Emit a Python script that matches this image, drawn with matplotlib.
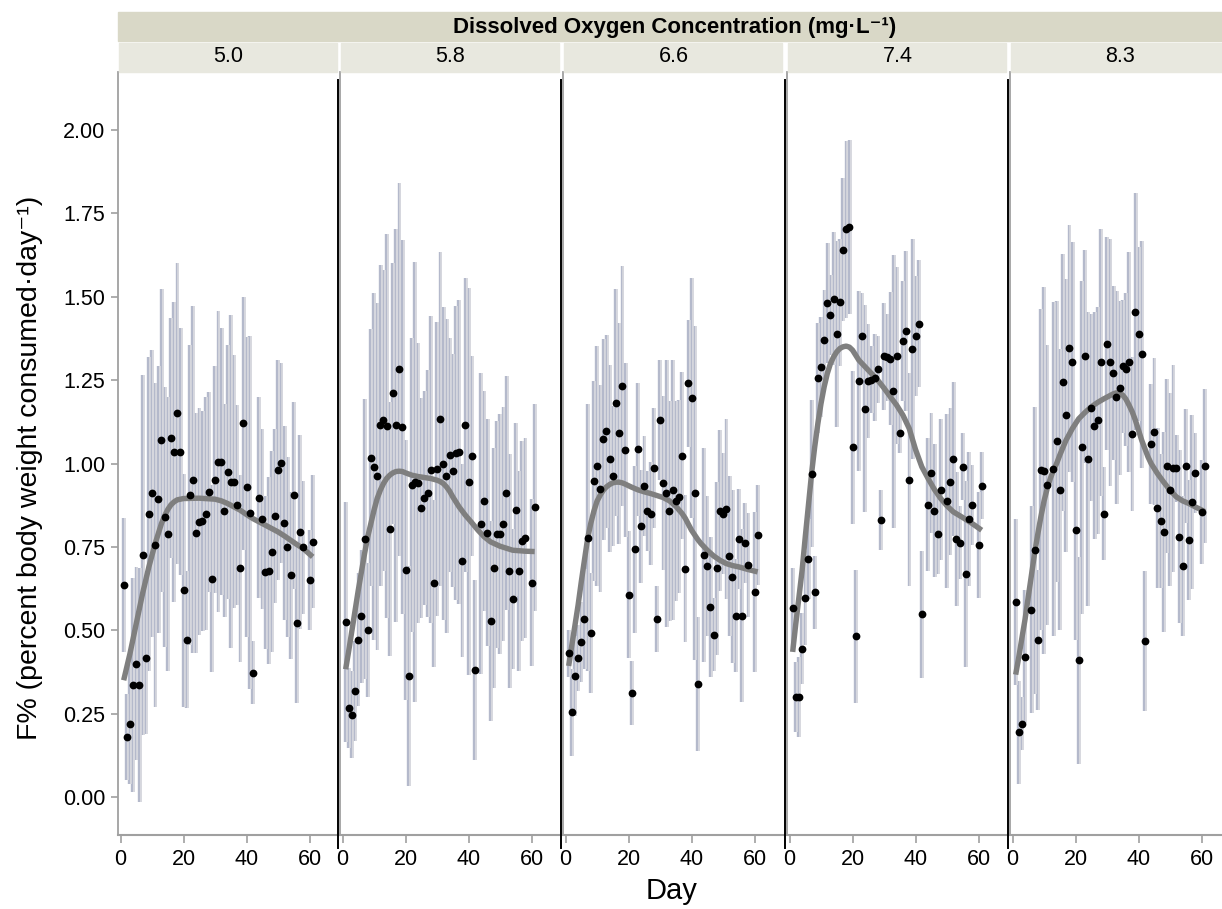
import matplotlib.pyplot as plt
import numpy as np
from matplotlib.lines import Line2D
from matplotlib.patches import Rectangle

plt.rcParams['font.family'] = ['Liberation Sans', 'DejaVu Sans']

# ----------------------------------------------------------
# data
# ----------------------------------------------------------

DO_LEVELS = ["5.0", "5.8", "6.6", "7.4", "8.3"]

DAYS_A = [1, 2, 3, 4, 5, 6, 7, 8, 9, 10, 11, 12, 13, 14, 15, 16, 17, 18, 19, 20,
          21, 22, 23, 24, 25, 26, 27, 28, 29, 30, 31, 32, 33, 34, 35, 36, 37, 38, 39, 40,
          41, 42, 44, 45, 46, 47, 48, 49, 50, 51, 52, 53, 54, 55, 56, 57, 58, 60, 61]
DAYS_74 = [1, 2, 3, 4, 5, 6, 7, 8, 9, 10, 11, 12, 13, 14, 15, 16, 17, 18, 19, 20,
           21, 22, 23, 24, 25, 26, 27, 28, 29, 30, 31, 32, 33, 34, 35, 36, 37, 38, 39, 40,
           41, 42, 44, 45, 46, 47, 48, 50, 51, 52, 53, 54, 55, 56, 57, 58, 60, 61]
DAYS_83 = [1, 2, 3, 4, 6, 7, 8, 9, 10, 11, 13, 14, 15, 16, 17, 18, 19, 20,
           21, 22, 23, 24, 25, 26, 27, 28, 29, 30, 31, 32, 33, 34, 35, 36, 37, 38, 39, 40,
           41, 42, 44, 45, 46, 47, 48, 49, 50, 51, 52, 53, 54, 55, 56, 57, 58, 60, 61]

F_50 = [0.636, 0.18, 0.22, 0.336, 0.40, 0.336, 0.726, 0.418, 0.849, 0.911,
        0.756, 0.893, 1.069, 0.839, 0.788, 1.076, 1.035, 1.15, 1.035, 0.62,
        0.472, 0.905, 0.952, 0.792, 0.825, 0.828, 0.85, 0.915, 0.655, 0.952,
        1.006, 1.006, 0.859, 0.975, 0.946, 0.946, 0.876, 0.686, 1.12, 0.93,
        0.853, 0.373, 0.898, 0.833, 0.674, 0.679, 0.736, 0.843, 0.98, 1.001,
        0.822, 0.751, 0.665, 0.905, 0.521, 0.794, 0.749, 0.65, 0.766]
ERR_50 = [0.20, 0.13, 0.18, 0.32, 0.29, 0.35, 0.54, 0.23, 0.47, 0.43,
          0.485, 0.40, 0.455, 0.39, 0.41, 0.36, 0.45, 0.45, 0.37, 0.35,
          0.205, 0.45, 0.52, 0.36, 0.34, 0.33, 0.35, 0.30, 0.28, 0.34,
          0.45, 0.40, 0.32, 0.38, 0.50, 0.38, 0.30, 0.28, 0.38, 0.45,
          0.53, 0.095, 0.30, 0.27, 0.23, 0.28, 0.30, 0.26, 0.33, 0.30,
          0.29, 0.27, 0.25, 0.28, 0.24, 0.29, 0.20, 0.15, 0.20]

F_58 = [0.524, 0.266, 0.247, 0.319, 0.472, 0.542, 0.773, 0.501, 1.017, 0.99,
        0.962, 1.114, 1.129, 1.113, 0.804, 1.21, 1.114, 1.282, 1.11, 0.681,
        0.363, 0.935, 0.944, 0.941, 0.866, 0.897, 0.911, 0.982, 0.641, 0.984,
        1.134, 1.0, 0.962, 1.025, 0.979, 1.031, 1.035, 0.709, 1.116, 0.946,
        1.023, 0.38, 0.82, 0.887, 0.792, 0.527, 0.686, 0.788, 0.788, 0.818,
        0.911, 0.678, 0.595, 0.862, 0.678, 0.768, 0.777, 0.643, 0.869]
ERR_58 = [0.36, 0.12, 0.13, 0.15, 0.20, 0.20, 0.42, 0.20, 0.385, 0.52,
          0.52, 0.48, 0.45, 0.575, 0.38, 0.39, 0.59, 0.56, 0.56, 0.39,
          0.33, 0.44, 0.66, 0.42, 0.33, 0.32, 0.37, 0.46, 0.25, 0.44,
          0.50, 0.47, 0.47, 0.35, 0.35, 0.44, 0.455, 0.29, 0.44, 0.58,
          0.30, 0.27, 0.45, 0.33, 0.34, 0.30, 0.36, 0.34, 0.36, 0.35,
          0.35, 0.35, 0.21, 0.26, 0.30, 0.30, 0.30, 0.25, 0.31]

F_66 = [0.431, 0.254, 0.363, 0.417, 0.466, 0.534, 0.777, 0.492, 0.948, 0.993,
        0.925, 1.072, 1.096, 1.014, 0.962, 1.182, 1.09, 1.233, 1.04, 0.607,
        0.312, 0.743, 1.042, 0.812, 0.932, 0.859, 0.85, 0.986, 0.534, 1.13,
        0.941, 0.911, 0.857, 0.921, 0.887, 0.901, 1.024, 0.685, 1.24, 1.196,
        0.912, 0.339, 0.725, 0.692, 0.569, 0.487, 0.686, 0.859, 0.85, 0.863,
        0.722, 0.661, 0.544, 0.775, 0.544, 0.763, 0.696, 0.616, 0.785]
ERR_66 = [0.07, 0.13, 0.12, 0.10, 0.12, 0.15, 0.40, 0.18, 0.30, 0.36,
          0.31, 0.30, 0.29, 0.28, 0.21, 0.34, 0.33, 0.36, 0.26, 0.19,
          0.095, 0.25, 0.20, 0.17, 0.15, 0.12, 0.155, 0.18, 0.10, 0.18,
          0.26, 0.40, 0.33, 0.39, 0.30, 0.29, 0.25, 0.22, 0.19, 0.36,
          0.50, 0.20, 0.32, 0.21, 0.21, 0.11, 0.26, 0.24, 0.18, 0.27,
          0.24, 0.26, 0.17, 0.15, 0.26, 0.12, 0.155, 0.24, 0.15]

F_74 = [0.566, 0.30, 0.30, 0.445, 0.597, 0.715, 0.969, 0.614, 1.257, 1.288,
        1.371, 1.48, 1.445, 1.494, 1.388, 1.483, 1.641, 1.702, 1.709, 1.048,
        0.482, 1.247, 1.381, 1.164, 1.247, 1.251, 1.257, 1.282, 0.832, 1.321,
        1.318, 1.314, 1.216, 1.323, 1.092, 1.366, 1.397, 0.952, 1.343, 1.381,
        1.419, 0.548, 0.877, 0.972, 0.859, 0.788, 0.922, 0.887, 0.946, 1.014,
        0.774, 0.763, 0.99, 0.669, 0.833, 0.877, 0.756, 0.934]
ERR_74 = [0.12, 0.106, 0.12, 0.106, 0.14, 0.12, 0.22, 0.11, 0.165, 0.15,
          0.15, 0.18, 0.12, 0.20, 0.28, 0.19, 0.215, 0.265, 0.26, 0.23,
          0.20, 0.27, 0.13, 0.31, 0.17, 0.10, 0.13, 0.10, 0.09, 0.16,
          0.13, 0.20, 0.41, 0.265, 0.06, 0.18, 0.24, 0.32, 0.33, 0.18,
          0.19, 0.19, 0.20, 0.18, 0.20, 0.12, 0.21, 0.26, 0.22, 0.23,
          0.20, 0.11, 0.10, 0.28, 0.20, 0.12, 0.16, 0.10]

F_83 = [0.585, 0.194, 0.22, 0.421, 0.562, 0.74, 0.47, 0.982, 0.979, 0.935,
        0.983, 1.066, 0.922, 1.244, 1.144, 1.346, 1.304, 0.801, 0.41, 1.048,
        1.321, 1.014, 1.167, 1.113, 1.13, 1.304, 0.85, 1.359, 1.304, 1.271,
        1.198, 1.226, 1.291, 1.282, 1.304, 1.088, 1.455, 1.388, 1.328, 0.468,
        1.059, 1.095, 0.866, 0.828, 0.795, 0.992, 0.922, 0.986, 0.986, 0.781,
        0.692, 0.992, 0.771, 0.884, 0.972, 0.855, 0.992]
ERR_83 = [0.25, 0.155, 0.08, 0.20, 0.31, 0.43, 0.21, 0.48, 0.55, 0.42,
          0.50, 0.42, 0.42, 0.385, 0.41, 0.37, 0.36, 0.33, 0.31, 0.50,
          0.32, 0.44, 0.28, 0.34, 0.34, 0.40, 0.14, 0.32, 0.37, 0.26,
          0.32, 0.26, 0.20, 0.23, 0.33, 0.23, 0.355, 0.26, 0.34, 0.21,
          0.18, 0.22, 0.24, 0.20, 0.30, 0.26, 0.29, 0.31, 0.10, 0.26,
          0.21, 0.17, 0.18, 0.26, 0.12, 0.155, 0.23]

# smoothed trend lines
FIT_50_DAY = [1, 2, 3, 4, 5, 6, 7, 8, 9, 10, 11, 12, 13, 14, 15, 16, 17, 18, 20, 25,
              30, 32, 34, 36, 38, 40, 42, 44, 46, 48, 50, 52, 54, 56, 58, 61]
FIT_50 = [0.35, 0.39, 0.43, 0.475, 0.52, 0.565, 0.61, 0.65, 0.69, 0.725,
          0.76, 0.79, 0.82, 0.843, 0.862, 0.876, 0.885, 0.891, 0.895, 0.896,
          0.893, 0.888, 0.88, 0.87, 0.86, 0.847, 0.835, 0.825, 0.815, 0.805,
          0.795, 0.783, 0.77, 0.757, 0.745, 0.72]
FIT_58_DAY = [1, 2, 3, 4, 5, 6, 7, 8, 9, 10, 11, 12, 13, 14, 15, 16, 17, 18, 19, 20,
              22, 24, 26, 28, 30, 31, 32, 33, 34, 35, 36, 37, 39, 41, 43, 45, 47, 50,
              54, 58, 61]
FIT_58 = [0.383, 0.44, 0.50, 0.56, 0.62, 0.675, 0.73, 0.78, 0.82, 0.86,
          0.895, 0.92, 0.94, 0.955, 0.965, 0.972, 0.976, 0.977, 0.976, 0.972,
          0.965, 0.961, 0.958, 0.955, 0.95, 0.946, 0.94, 0.93, 0.917, 0.90,
          0.885, 0.87, 0.845, 0.823, 0.80, 0.78, 0.765, 0.752, 0.74, 0.737,
          0.736]
FIT_66_DAY = [1, 2, 3, 4, 5, 6, 7, 8, 9, 10, 11, 12, 13, 14, 15, 16, 17, 18, 19, 21,
              23, 25, 27, 29, 31, 33, 35, 37, 38, 39, 40, 41, 42, 43, 45, 47, 49, 51,
              53, 55, 58, 61]
FIT_66 = [0.393, 0.455, 0.515, 0.576, 0.645, 0.71, 0.774, 0.82, 0.857, 0.887,
          0.905, 0.92, 0.93, 0.937, 0.942, 0.944, 0.944, 0.942, 0.938, 0.929,
          0.921, 0.915, 0.91, 0.904, 0.898, 0.888, 0.872, 0.85, 0.836, 0.818,
          0.80, 0.786, 0.772, 0.76, 0.74, 0.723, 0.71, 0.70, 0.694, 0.69,
          0.682, 0.675]
FIT_74_DAY = [1, 2, 3, 4, 5, 6, 7, 8, 9, 10, 11, 12, 13, 14, 15, 16, 17, 18, 19, 20,
              22, 24, 26, 28, 30, 32, 34, 36, 38, 40, 42, 44, 46, 48, 50, 52, 55,
              58, 61]
FIT_74 = [0.435, 0.52, 0.60, 0.68, 0.78, 0.875, 0.97, 1.05, 1.12, 1.18,
          1.23, 1.27, 1.30, 1.32, 1.335, 1.345, 1.35, 1.352, 1.349, 1.34,
          1.31, 1.29, 1.27, 1.25, 1.226, 1.20, 1.175, 1.145, 1.105, 1.042,
          0.99, 0.955, 0.922, 0.895, 0.873, 0.855, 0.838, 0.82, 0.80]
FIT_83_DAY = [1, 2, 3, 4, 5, 6, 7, 8, 9, 10, 11, 12, 13, 14, 15, 16, 17, 19, 21, 23,
              25, 27, 29, 31, 32, 33, 34, 35, 36, 37, 38, 39, 40, 41, 42, 43, 44, 46,
              48, 50, 52, 54, 56, 58, 61]
FIT_83 = [0.367, 0.42, 0.478, 0.534, 0.60, 0.665, 0.73, 0.787, 0.84, 0.887,
          0.925, 0.955, 0.98, 1.0, 1.025, 1.048, 1.07, 1.105, 1.134, 1.153,
          1.17, 1.183, 1.194, 1.204, 1.209, 1.212, 1.211, 1.205, 1.193, 1.175,
          1.155, 1.13, 1.10, 1.07, 1.045, 1.02, 1.0, 0.97, 0.944, 0.92,
          0.90, 0.888, 0.88, 0.87, 0.856]

PANELS = [
    (DAYS_A, F_50, ERR_50, FIT_50_DAY, FIT_50),
    (DAYS_A, F_58, ERR_58, FIT_58_DAY, FIT_58),
    (DAYS_A, F_66, ERR_66, FIT_66_DAY, FIT_66),
    (DAYS_74, F_74, ERR_74, FIT_74_DAY, FIT_74),
    (DAYS_83, F_83, ERR_83, FIT_83_DAY, FIT_83),
]

# ----------------------------------------------------------
# layout (pixels)
# ----------------------------------------------------------

W, H = 1222, 909
LEFTS = [118, 340, 563, 787, 1010]
PW = 221
TOP, BOTTOM = 72, 835

fig = plt.figure(figsize=(W / 100, H / 100), dpi=100)
fig.patch.set_facecolor("white")


def fx(px):
    return px / W


def fy(py):
    return 1 - py / H


GRAY = "#a0a0a0"

# header strips
fig.patches.append(Rectangle((fx(118), fy(41)), fx(W - 118), (41 - 12) / H,
                             transform=fig.transFigure, color="#d9d8c7", zorder=0))
fig.text(fx(675), fy(27), "Dissolved Oxygen Concentration (mg·L⁻¹)",
         ha="center", va="center", fontsize=16, fontweight="bold")

for i, (left, level) in enumerate(zip(LEFTS, DO_LEVELS)):
    fig.patches.append(Rectangle((fx(left + 1), fy(72)), fx(PW - 3), (72 - 43) / H,
                                 transform=fig.transFigure, color="#e8e8df", zorder=0))
    fig.text(fx(left + PW / 2), fy(57), level, ha="center", va="center", fontsize=15.5)

for i, (left, (days, f, err, fd, fv)) in enumerate(zip(LEFTS, PANELS)):
    ax = fig.add_axes([fx(left), fy(BOTTOM), fx(PW), (BOTTOM - TOP) / H])
    d = np.array(days)
    f = np.array(f)
    e = np.array(err)

    ax.vlines(d - 0.2, f - e, f + e, color="#b4b9cb", lw=1.7, zorder=1)
    ax.vlines(d + 0.38, f - e, f + e, color="#d4d5dc", lw=1.3, zorder=1)
    ax.plot(fd, fv, color="#7f7f7f", lw=3.9, zorder=3,
            solid_capstyle="butt", solid_joinstyle="round")
    ax.plot(d, f, "o", color="black", ms=5.6, mew=0, zorder=4)

    ax.set_xlim(-0.8, -0.8 + PW / 3.15)
    ax.set_ylim(-0.114, 2.174)
    ax.set_xticks([0, 20, 40, 60])
    ax.tick_params(axis="x", direction="out", length=6, width=1.2, color=GRAY,
                   labelsize=15.5, pad=4)
    for s in ["top", "right"]:
        ax.spines[s].set_visible(False)
    ax.spines["bottom"].set_color(GRAY)
    ax.spines["bottom"].set_linewidth(1.5)
    ax.spines["left"].set_color(GRAY)
    ax.spines["left"].set_linewidth(1.3)

    if i == 0:
        ax.set_yticks([0, 0.25, 0.5, 0.75, 1.0, 1.25, 1.5, 1.75, 2.0])
        ax.set_yticklabels(["0.00", "0.25", "0.50", "0.75", "1.00",
                            "1.25", "1.50", "1.75", "2.00"])
        ax.tick_params(axis="y", direction="out", length=5, width=1.2, color=GRAY,
                       labelsize=15.5, pad=4)
    else:
        ax.set_yticks([])
        # dark divider between panels
        fig.add_artist(Line2D([fx(left - 2), fx(left - 2)], [fy(848), fy(80)],
                              color="black", lw=1.4, transform=fig.transFigure))

fig.text(fx(672), fy(891), "Day", ha="center", va="center", fontsize=21)
fig.text(fx(30), fy(468), "F% (percent body weight consumed·day⁻¹)",
         ha="center", va="center", rotation=90, fontsize=20.5)

fig.savefig("out.png", dpi=100)
